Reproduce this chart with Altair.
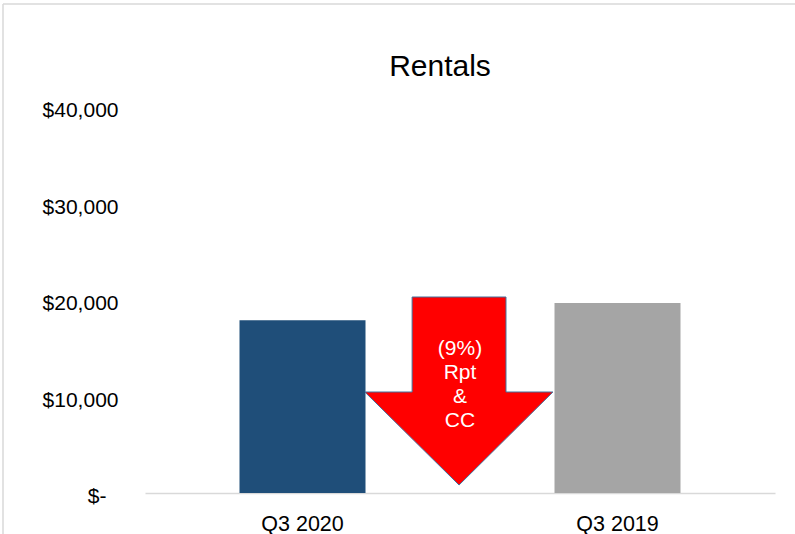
import altair as alt
import pandas as pd

# ---- data ----
categories = ["Q3 2020", "Q3 2019"]
rentals = [17900, 19700]
bar_colors = ["#1F4E79", "#A5A5A5"]

# red down-arrow annotation (polygon vertices, x in category units 0..2)
arrow_x = [0.848, 1.146, 1.146, 1.295, 0.997, 0.698, 0.848, 0.848]
arrow_y = [20310, 20310, 10466, 10466, 829, 10466, 10466, 20310]
arrow_lines = ["(9%)", "Rpt", "&", "CC"]
arrow_label_x = 1.0
arrow_label_y = 14900  # first text line

y_ticks = [0, 10000, 20000, 30000, 40000]

FONT = "Liberation Sans"
RED = "#FF0000"
OUTLINE = "#41719C"
FRAME = "#D9D9D9"

bar_df = pd.DataFrame({"category": categories, "value": rentals})

y_scale = alt.Scale(domain=[0, 40000], nice=False)
y_axis = alt.Axis(
    title=None, values=y_ticks, grid=False, ticks=False, domain=False,
    labelExpr="datum.value == 0 ? '$-' : '$' + format(datum.value, ',')",
    labelFontSize=21, labelColor="black", labelFont=FONT,
    labelPadding=alt.condition("datum.value == 0", alt.value(39), alt.value(27)),
    labelOffset=3.5,
)


def Y(field):
    return alt.Y(field, scale=y_scale, axis=y_axis)


bars = alt.Chart(bar_df).mark_bar().encode(
    x=alt.X(
        "category:N", sort=categories,
        scale=alt.Scale(paddingInner=0.6, paddingOuter=0.3),
        axis=alt.Axis(
            title=None, labelAngle=0, ticks=False, domainColor=FRAME,
            domainWidth=1.5, labelFontSize=21.5, labelPadding=20,
            labelColor="black", labelFont=FONT,
        ),
    ),
    y=Y("value:Q"),
    color=alt.Color("category:N", scale=alt.Scale(domain=categories, range=bar_colors), legend=None),
)

one = pd.DataFrame({"a": [0]})
frame_top = alt.Chart(one).mark_rule(color=FRAME, strokeWidth=1.5).encode(
    x=alt.value(-142), x2=alt.value(660), y=alt.value(-103)
)
frame_left = alt.Chart(one).mark_rule(color=FRAME, strokeWidth=1.5).encode(
    x=alt.value(-142), y=alt.value(-103), y2=alt.value(440)
)

xq = alt.Scale(domain=[0, 2], nice=False, zero=False)

poly_df = pd.DataFrame({"x": arrow_x, "value": arrow_y, "i": list(range(len(arrow_x)))})
shaft_df = pd.DataFrame({
    "x": [arrow_x[0]], "x2": [arrow_x[1]],
    "value": [arrow_y[0]], "value2": [0.6 * arrow_y[2] + 0.4 * arrow_y[4]],
})
head_df = pd.DataFrame({
    "x": [arrow_x[5], arrow_x[4], arrow_x[3]],
    "value": [arrow_y[5], arrow_y[4], arrow_y[3]],
    "value2": [arrow_y[3]] * 3,
})

shaft = alt.Chart(shaft_df).mark_rect(color=RED).encode(
    x=alt.X("x:Q", scale=xq, axis=None), x2="x2:Q",
    y=Y("value:Q"), y2="value2:Q",
)
head = alt.Chart(head_df).mark_area(color=RED).encode(
    x=alt.X("x:Q", scale=xq, axis=None),
    y=Y("value:Q"), y2="value2:Q",
)
outline = alt.Chart(poly_df).mark_line(color=OUTLINE, strokeWidth=1).encode(
    x=alt.X("x:Q", scale=xq, axis=None),
    y=Y("value:Q"),
    order="i:Q",
)
label = alt.Chart(
    alt.Data(values=[{"x": arrow_label_x, "value": arrow_label_y, "t": arrow_lines}])
).mark_text(color="white", fontSize=21, lineHeight=24, baseline="middle", align="center", font=FONT).encode(
    x=alt.X("x:Q", scale=xq, axis=None),
    y=Y("value:Q"),
    text="t:N",
)

arrow = alt.layer(shaft, head, outline, label)

chart = alt.layer(frame_top, frame_left, bars, arrow).resolve_scale(
    x="independent"
).properties(
    width=630,
    height=386,
    title=alt.TitleParams(
        "Rentals", fontSize=30, fontWeight="normal", color="black", font=FONT,
        anchor="middle", frame="group", dx=-20, baseline="alphabetic", offset=-103,
    ),
    autosize=alt.AutoSizeParams(type="none"),
    padding={"left": 145, "top": 107, "right": 20, "bottom": 41},
).configure(font=FONT, background="white").configure_view(stroke=None)

chart.save("out.html", embed_options={"renderer": "svg", "actions": False})
